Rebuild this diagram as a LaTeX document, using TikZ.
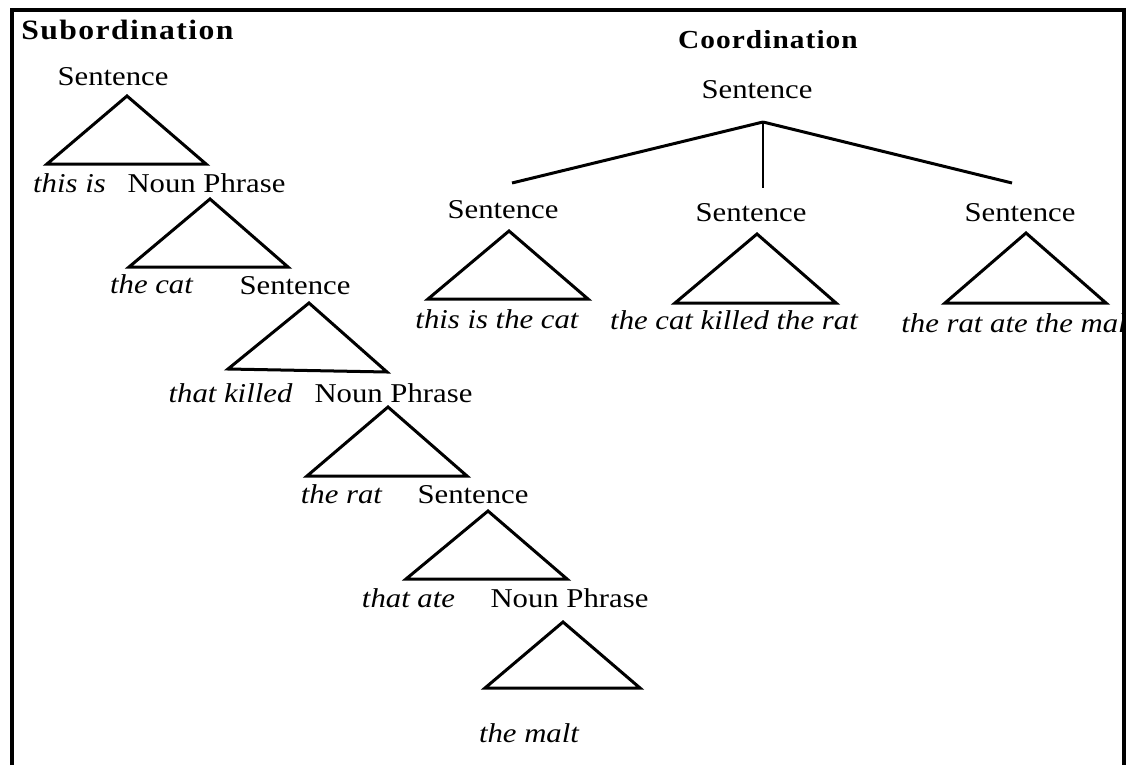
\documentclass[tikz,border=0pt]{standalone}
\usepackage{fontspec}
\setmainfont{Liberation Serif}[FakeStretch=1.13]
\newfontfamily\subhead{Liberation Serif}[FakeStretch=1.13,LetterSpace=5]
\newfontfamily\coordhead{Liberation Serif}[FakeStretch=1.13,LetterSpace=4]
\usepackage{tikz}
\usetikzlibrary{positioning,calc}

\tikzset{
    label/.style={inner sep=0pt, anchor=base, font=\fontsize{13.6}{16}\selectfont},
    words/.style={label, font=\fontsize{13.6}{16}\selectfont\itshape},
    tri/.style={line width=1.5pt, line join=miter},
    branch/.style={line width=1.5pt},
    frame/.style={line width=2pt}
}

\begin{document}
\begin{tikzpicture}[x=0.5pt, y=-0.5pt]
    \useasboundingbox (0,0) rectangle (1128,765);
    \draw[frame] (12,765) -- (12,10) -- (1124,10) -- (1124,765);

    % subordination
    \node[inner sep=0pt, anchor=base west, font=\fontsize{14}{16}\subhead\bfseries] (subtitle) at (21,40) {Subordination};

    \node[label] (s1) at (113,86) {Sentence};
    \draw[tri] (127,96) -- (47,164) -- (206,164) -- cycle;
    \node[words] (w1) at (69.5,192) {this is};
    \node[label] (np1) at (206.5,192) {Noun Phrase};

    \draw[tri] (210,199) -- (129,267) -- (288,267) -- cycle;
    \node[words] (w2) at (151.5,293) {the cat};
    \node[label] (s2) at (295,294) {Sentence};

    \draw[tri] (309,303) -- (228,369) -- (387,372) -- cycle;
    \node[words] (w3) at (230.5,402) {that killed};
    \node[label] (np2) at (393.5,402) {Noun Phrase};

    \draw[tri] (388,407) -- (307,476) -- (467,476) -- cycle;
    \node[words] (w4) at (341.5,503) {the rat};
    \node[label] (s3) at (473,503) {Sentence};

    \draw[tri] (488,511) -- (406,579) -- (567,579) -- cycle;
    \node[words] (w5) at (408.5,607) {that ate};
    \node[label] (np3) at (569.5,607) {Noun Phrase};

    \draw[tri] (563,622) -- (485,688) -- (640,688) -- cycle;
    \node[words] (w6) at (529,742) {the malt};

    % coordination
    \node[inner sep=0pt, anchor=base, font=\fontsize{13}{16}\coordhead\bfseries] (cotitle) at (768,49) {Coordination};
    \node[label] (top) at (757,98) {Sentence};

    \coordinate (root) at (763,122);
    \coordinate (end1) at (512,183);
    \coordinate (end2) at (763,188);
    \coordinate (end3) at (1012,183);
    \draw[branch] (root) -- (end1);
    \draw[line width=1pt] (root) -- (end2);
    \draw[branch] (root) -- (end3);

    \node[label] (c1) at (503,218) {Sentence};
    \draw[tri] (509,231) -- (428,299) -- (588,299) -- cycle;
    \node[words] (cw1) at (497,328) {this is the cat};

    \node[label] (c2) at (751,221) {Sentence};
    \draw[tri] (757,234) -- (675,303) -- (836,303) -- cycle;
    \node[words] (cw2) at (734,329) {the cat killed the rat};

    \node[label] (c3) at (1020,221) {Sentence};
    \draw[tri] (1026,233) -- (945,303) -- (1106,303) -- cycle;
    \begin{scope}
        \clip (12,10) rectangle (1124,765);
        \node[words, anchor=base west] (cw3) at (901,332) {the rat ate the malt};
    \end{scope}
\end{tikzpicture}
\end{document}
